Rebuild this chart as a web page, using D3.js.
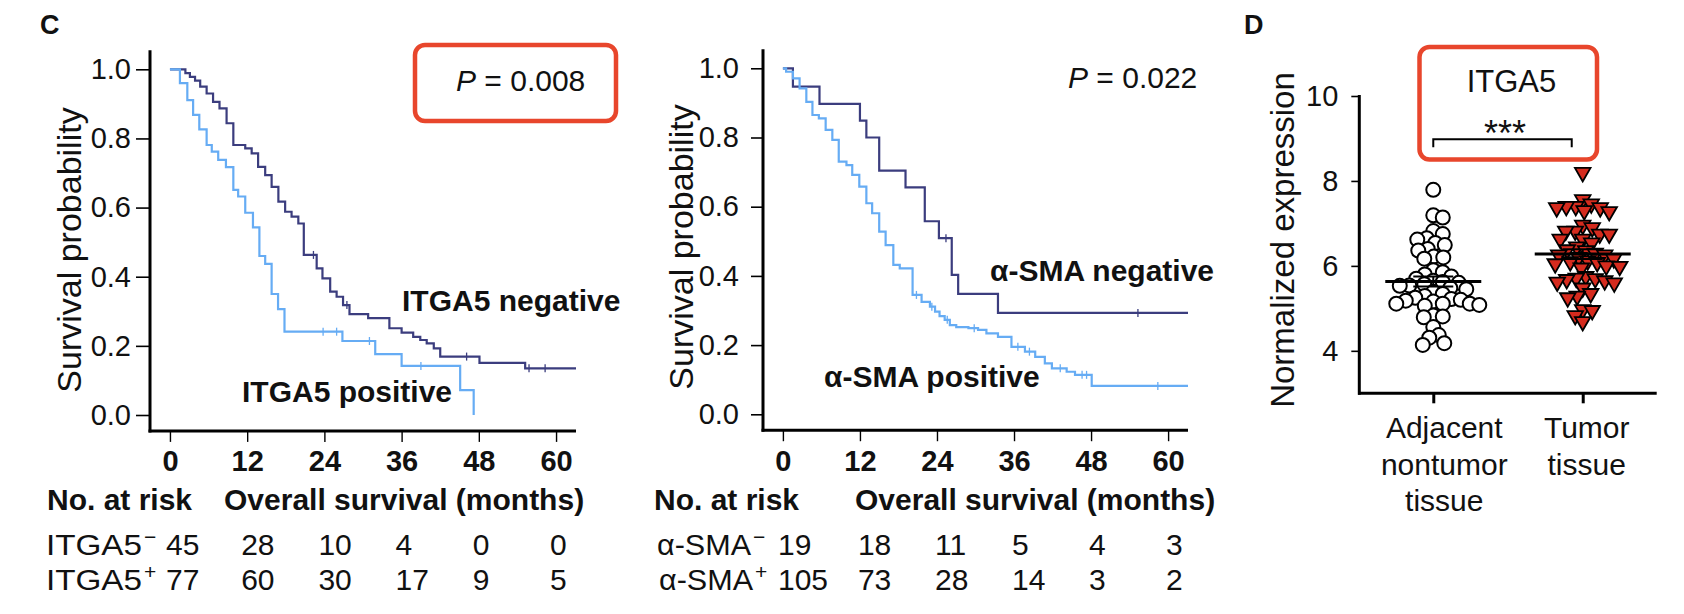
<!DOCTYPE html>
<html><head><meta charset="utf-8">
<script src="https://cdn.jsdelivr.net/npm/d3@7"></script>
<style>
html,body{margin:0;padding:0;background:#fff;}
svg{display:block;}
</style></head><body>
<svg id="chart" width="1684" height="614"></svg>
<script>
// ---------------- DATA ----------------
const monthTicks = [0, 12, 24, 36, 48, 60];
const survTicks = [0, 0.2, 0.4, 0.6, 0.8, 1.0];
const exprTicks = [4, 6, 8, 10];

// Kaplan-Meier steps: [month, survival after event]
const itga5NegSteps = [[2.4,0.989],[3.1,0.978],[3.9,0.967],[4.7,0.95],[5.7,0.93],[6.7,0.906],[7.7,0.887],[8.8,0.844],[9.85,0.781],[11.7,0.771],[12.7,0.757],[13.7,0.718],[14.8,0.694],[15.8,0.66],[16.85,0.617],[17.9,0.588],[18.9,0.574],[19.95,0.554],[20.8,0.463],[22.8,0.424],[23.7,0.395],[24.9,0.357],[25.9,0.342],[26.9,0.318],[27.9,0.292],[30.8,0.28],[34.1,0.251],[36,0.238],[37.8,0.226],[38.9,0.217],[39.9,0.207],[41,0.193],[42,0.169],[48.1,0.151],[55.2,0.135]];
const itga5NegCensor = [22.3, 27.5, 46.1, 55.8, 58.3];
const itga5PosSteps = [[1.55,0.96],[2.7,0.911],[3.6,0.868],[4.56,0.826],[5.7,0.781],[6.5,0.762],[7.5,0.738],[8.7,0.717],[9.85,0.651],[10.6,0.632],[11.7,0.585],[12.9,0.543],[13.9,0.46],[14.8,0.437],[15.8,0.35],[16.8,0.306],[17.8,0.241],[26.8,0.214],[31.9,0.176],[36,0.142],[45.1,0.072],[47.2,0]];
const itga5PosCensor = [23.8, 25.9, 31, 39];

const smaNegSteps = [[1.56,0.947],[5.7,0.897],[12,0.849],[13,0.8],[15,0.704],[19.1,0.656],[22.1,0.558],[24.3,0.509],[26.3,0.403],[27.3,0.348],[33.5,0.293]];
const smaNegCensor = [25.4, 55.3];
const smaPosSteps = [[0.5,0.99],[1.56,0.971],[2.6,0.942],[3.65,0.903],[4.6,0.865],[5.6,0.855],[6.66,0.822],[7.7,0.793],[8.7,0.73],[9.9,0.72],[10.8,0.692],[11.9,0.658],[13,0.61],[13.9,0.581],[15,0.528],[16,0.489],[17.2,0.432],[18.2,0.422],[20.2,0.345],[21.6,0.325],[22.9,0.311],[23.7,0.297],[24.4,0.284],[25.2,0.273],[26,0.258],[27,0.252],[28.9,0.249],[30.4,0.244],[31.7,0.234],[33.5,0.224],[35.6,0.195],[37.7,0.181],[39.3,0.166],[40.8,0.147],[41.9,0.133],[44.2,0.123],[45.5,0.114],[48.1,0.082]];
const smaPosCensor = [20.8, 23.2, 25.6, 29.8, 36.6, 38.4, 43.2, 46.6, 47.3, 58.4];

const followUpEnd = 63.1;

// numbers at risk
const itga5NegRisk = [45, 28, 10, 4, 0, 0];
const itga5PosRisk = [77, 60, 30, 17, 9, 5];
const smaNegRisk = [19, 18, 11, 5, 4, 3];
const smaPosRisk = [105, 73, 28, 14, 3, 2];

// scatter (panel D)
const categories = ["Adjacent nontumor tissue", "Tumor tissue"];
const categoryLines = [["Adjacent", "nontumor", "tissue"], ["Tumor", "tissue"]];
const adjacentExpr = [7.79,7.19,7.14,6.82,6.75,6.65,6.62,6.54,6.49,6.4,6.36,6.22,6.2,6.17,5.9,5.85,5.8,5.75,5.7,5.65,5.62,5.6,5.57,5.54,5.53,5.48,5.45,5.39,5.34,5.29,5.25,5.22,5.2,5.18,5.16,5.11,5.11,5.08,5.06,5.11,4.83,4.81,4.79,4.56,4.37,4.31,4.18,4.14];
const tumorExpr = [8.2,7.56,7.46,7.4,7.37,7.37,7.3,7.28,7.4,6.96,6.9,6.82,6.82,6.75,6.75,6.63,6.63,6.54,6.45,6.38,6.36,6.3,6.26,6.26,6.2,6.17,6.08,6.05,6.0,5.99,5.95,6.1,6.12,5.75,5.71,5.7,5.68,5.62,5.65,5.6,5.48,5.35,5.29,5.25,4.97,4.95,4.83,4.69];

// ---------------- DRAWING ----------------
const FONT = "'Liberation Sans', Arial, Helvetica, sans-serif";
const DARK = "#3b3d7e", LIGHT = "#66acf4", RED = "#e8462c";
const svg = d3.select("#chart").attr("font-family", FONT);

function stepValue(steps, t){
  let s = 1;
  for (const [tt, v] of steps) { if (tt <= t) s = v; else break; }
  return s;
}

function kmPanel(cfg){
  const x = d3.scaleLinear().domain([-3.1, followUpEnd]).range([cfg.x0, cfg.x1]);
  const y = d3.scaleLinear().domain([0, 1]).range([cfg.yBottom, cfg.yTop]);
  const g = svg.append("g");
  const axisY = y(-0.046);

  const ya = g.append("g").attr("transform", `translate(${cfg.x0},0)`)
    .call(d3.axisLeft(y).tickValues(survTicks).tickFormat(d3.format(".1f")).tickSize(cfg.yTick).tickPadding(cfg.yPad));
  ya.select(".domain").remove();
  ya.selectAll(".tick line").attr("stroke", "#000").attr("stroke-width", 1.6);
  ya.selectAll(".tick text").attr("font-size", 29).attr("font-family", FONT).attr("fill", "#111");

  const xa = g.append("g").attr("transform", `translate(0,${axisY})`)
    .call(d3.axisBottom(x).tickValues(monthTicks).tickSize(11).tickPadding(9));
  xa.select(".domain").remove();
  xa.selectAll(".tick line").attr("stroke", "#000").attr("stroke-width", 1.4);
  xa.selectAll(".tick text").attr("font-size", 29).attr("font-weight", "bold").attr("font-family", FONT).attr("fill", "#111");

  g.append("line").attr("x1", cfg.x0).attr("x2", cfg.x0).attr("y1", y(1.055)).attr("y2", axisY + 1.5)
    .attr("stroke", "#000").attr("stroke-width", 3);
  g.append("line").attr("x1", cfg.x0 - 1.5).attr("x2", x(followUpEnd)).attr("y1", axisY).attr("y2", axisY)
    .attr("stroke", "#000").attr("stroke-width", 3);

  g.append("text").attr("transform", `translate(${cfg.titleX},${cfg.titleY}) rotate(-90)`)
    .attr("text-anchor", "middle").attr("dominant-baseline", "central")
    .attr("font-size", 34).attr("fill", "#111").text("Survival probability");

  const line = d3.line().x(d => x(d[0])).y(d => y(d[1])).curve(d3.curveStepAfter);
  cfg.series.forEach(sr => {
    const pts = [[0, 1], ...sr.steps];
    const last = sr.steps[sr.steps.length - 1];
    if (last[1] > 0) pts.push([followUpEnd, last[1]]);
    g.append("path").attr("d", line(pts)).attr("fill", "none").attr("stroke", sr.color).attr("stroke-width", 2.2);
    g.selectAll(null).data(sr.censor).join("line")
      .attr("x1", d => x(d)).attr("x2", d => x(d))
      .attr("y1", d => y(stepValue(sr.steps, d)) - 4).attr("y2", d => y(stepValue(sr.steps, d)) + 4)
      .attr("stroke", sr.color).attr("stroke-width", 1.3);
  });

  cfg.labels.forEach(l => {
    g.append("text").attr("x", l.x).attr("y", l.y).attr("font-size", 30).attr("font-weight", "bold")
      .attr("fill", "#111").text(l.text);
  });

  const pt = g.append("text").attr("x", cfg.pX).attr("y", cfg.pY).attr("font-size", 30).attr("fill", "#111");
  pt.append("tspan").attr("font-style", "italic").text("P");
  pt.append("tspan").text(" = " + cfg.pValue);

  // risk table
  g.append("text").attr("x", cfg.riskX).attr("y", 510).attr("font-size", 30).attr("font-weight", "bold").attr("fill", "#111").text("No. at risk");
  g.append("text").attr("x", cfg.osX).attr("y", 510).attr("font-size", 30).attr("font-weight", "bold").attr("fill", "#111").text("Overall survival (months)");
  cfg.riskRows.forEach((row, i) => {
    const yy = 555 + i * 35;
    g.append("text").attr("x", row.x).attr("y", yy).attr("font-size", 30).attr("fill", "#111")
      .attr("textLength", cfg.labelLen).attr("lengthAdjust", "spacingAndGlyphs").text(row.label);
    g.append("text").attr("x", row.x + cfg.labelLen + 2).attr("y", yy - 11).attr("font-size", 21).attr("fill", "#111").text(row.sign);
    g.append("text").attr("x", cfg.count0X).attr("y", yy).attr("font-size", 30).attr("fill", "#111").text(row.values[0]);
    g.selectAll(null).data(row.values.slice(1)).join("text")
      .attr("x", (d, j) => x(monthTicks[j + 1]) + cfg.colOff).attr("y", yy)
      .attr("font-size", 30).attr("fill", "#111").text(d => d);
  });
  return {x, y, g};
}

kmPanel({
  x0: 150, x1: 576, yBottom: 415, yTop: 69.3, yTick: 14, yPad: 5,
  titleX: 69, titleY: 250,
  series: [
    {steps: itga5NegSteps, censor: itga5NegCensor, color: DARK},
    {steps: itga5PosSteps, censor: itga5PosCensor, color: LIGHT}
  ],
  labels: [{text: "ITGA5 negative", x: 402, y: 311}, {text: "ITGA5 positive", x: 242, y: 402}],
  pX: 456, pY: 91, pValue: "0.008",
  riskX: 47, osX: 224, colOff: -6, labelLen: 96, count0X: 166,
  riskRows: [
    {label: "ITGA5", sign: "−", values: itga5NegRisk, x: 46},
    {label: "ITGA5", sign: "+", values: itga5PosRisk, x: 46}
  ]
});

kmPanel({
  x0: 763, x1: 1188, yBottom: 414.3, yTop: 68.3, yTick: 12, yPad: 12,
  titleX: 681, titleY: 247,
  series: [
    {steps: smaNegSteps, censor: smaNegCensor, color: DARK},
    {steps: smaPosSteps, censor: smaPosCensor, color: LIGHT}
  ],
  labels: [{text: "α-SMA negative", x: 990, y: 281}, {text: "α-SMA positive", x: 824, y: 387}],
  pX: 1068, pY: 88, pValue: "0.022",
  riskX: 654, osX: 855, colOff: -2, labelLen: 94, count0X: 778,
  riskRows: [
    {label: "α-SMA", sign: "−", values: smaNegRisk, x: 657},
    {label: "α-SMA", sign: "+", values: smaPosRisk, x: 659}
  ]
});

// red highlight box panel C
svg.append("rect").attr("x", 415).attr("y", 45).attr("width", 201).attr("height", 76).attr("rx", 10)
  .attr("fill", "none").attr("stroke", RED).attr("stroke-width", 4.5);

// panel letters
svg.append("text").attr("x", 40).attr("y", 34).attr("font-size", 27).attr("font-weight", "bold").attr("fill", "#111").text("C");
svg.append("text").attr("x", 1244).attr("y", 34).attr("font-size", 27).attr("font-weight", "bold").attr("fill", "#111").text("D");

// ---------------- PANEL D ----------------
(function(){
  const y = d3.scaleLinear().domain([3, 10]).range([393.3, 96]);
  const x = d3.scalePoint().domain(categories).range([1359.3, 1656.7]).padding(0.495);
  const g = svg.append("g");
  const ya = g.append("g").attr("transform", "translate(1359.3,0)")
    .call(d3.axisLeft(y).tickValues(exprTicks).tickFormat(d3.format("d")).tickSize(8).tickPadding(13));
  ya.select(".domain").remove();
  ya.selectAll(".tick line").attr("stroke", "#000").attr("stroke-width", 1.6);
  ya.selectAll(".tick text").attr("font-size", 29).attr("font-family", FONT).attr("fill", "#111");
  g.append("line").attr("x1", 1359.3).attr("x2", 1359.3).attr("y1", y(10) - 1).attr("y2", y(3) + 1.5).attr("stroke", "#000").attr("stroke-width", 3);
  const xa = g.append("g").attr("transform", `translate(0,${y(3)})`).call(d3.axisBottom(x).tickSize(10).tickFormat(""));
  xa.select(".domain").remove();
  xa.selectAll(".tick line").attr("stroke", "#000").attr("stroke-width", 3);
  g.append("line").attr("x1", 1358).attr("x2", 1656.7).attr("y1", y(3)).attr("y2", y(3)).attr("stroke", "#000").attr("stroke-width", 3);

  const labelOff = [11, 4];
  categoryLines.forEach((lines, i) => {
    lines.forEach((ln, k) => {
      g.append("text").attr("x", x(categories[i]) + labelOff[i]).attr("y", 438 + k * 36.5)
        .attr("text-anchor", "middle").attr("font-size", 30).attr("fill", "#111").text(ln);
    });
  });

  g.append("text").attr("transform", "translate(1282,240) rotate(-90)")
    .attr("text-anchor", "middle").attr("dominant-baseline", "central")
    .attr("font-size", 33).attr("fill", "#111").text("Normalized expression");

  function swarm(values, cx, minD){
    const pts = values.map(v => ({v, py: y(v)})).sort((a, b) => a.py - b.py);
    const placed = [];
    pts.forEach(p => {
      let best = 0;
      for (let k = 0; k < 200; k++) {
        const cands = k === 0 ? [0] : [k * 0.5, -k * 0.5];
        let ok = null;
        for (const dx of cands) {
          if (placed.every(q => (dx - q.dx) ** 2 + (p.py - q.py) ** 2 >= minD * minD)) { ok = dx; break; }
        }
        if (ok !== null) { best = ok; break; }
      }
      p.dx = best; p.px = cx + best;
      placed.push(p);
    });
    return pts;
  }

  const adjPts = swarm(adjacentExpr, x(categories[0]), 9.5);
  const tumPts = swarm(tumorExpr, x(categories[1]), 9.5);

  g.selectAll(null).data(adjPts).join("circle")
    .attr("cx", d => d.px).attr("cy", d => d.py).attr("r", 7)
    .attr("fill", "#fff").attr("stroke", "#000").attr("stroke-width", 2);
  const tri = d3.symbol(d3.symbolTriangle, 105);
  g.selectAll(null).data(tumPts).join("path")
    .attr("d", tri).attr("transform", d => `translate(${d.px},${d.py}) rotate(180)`)
    .attr("fill", "#d52b1e").attr("stroke", "#000").attr("stroke-width", 1.8);

  [[adjacentExpr, 0], [tumorExpr, 1]].forEach(([vals, i]) => {
    const m = d3.mean(vals), sem = d3.deviation(vals) / Math.sqrt(vals.length);
    const cx = x(categories[i]);
    g.append("line").attr("x1", cx - 48).attr("x2", cx + 48).attr("y1", y(m)).attr("y2", y(m)).attr("stroke", "#000").attr("stroke-width", 3);
    [m - sem, m + sem].forEach(v => g.append("line").attr("x1", cx - 20).attr("x2", cx + 20).attr("y1", y(v)).attr("y2", y(v)).attr("stroke", "#000").attr("stroke-width", 2));
    g.append("line").attr("x1", cx).attr("x2", cx).attr("y1", y(m - sem)).attr("y2", y(m + sem)).attr("stroke", "#000").attr("stroke-width", 2);
  });

  // annotation
  svg.append("rect").attr("x", 1419.5).attr("y", 47).attr("width", 177.5).attr("height", 112.5).attr("rx", 10)
    .attr("fill", "none").attr("stroke", RED).attr("stroke-width", 4.5);
  svg.append("text").attr("x", 1511.5).attr("y", 92).attr("text-anchor", "middle").attr("font-size", 31).attr("fill", "#111").text("ITGA5");
  svg.append("text").attr("x", 1505).attr("y", 146).attr("text-anchor", "middle").attr("font-size", 36).attr("fill", "#111").text("***");
  svg.append("path").attr("d", `M${x(categories[0])},147.3 V139.3 H${x(categories[1]) - 11} V147.3`)
    .attr("fill", "none").attr("stroke", "#000").attr("stroke-width", 2);
})();
</script>
</body></html>
